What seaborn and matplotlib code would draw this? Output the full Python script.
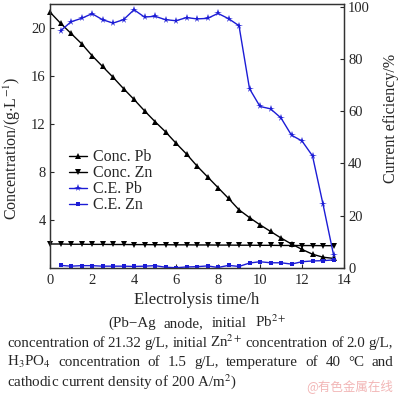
import numpy as np
import pandas as pd
import matplotlib
matplotlib.use("Agg")
import matplotlib.pyplot as plt
import seaborn as sns

# ---- data ----
t_conc = [0, 0.5, 1, 1.5, 2, 2.5, 3, 3.5, 4, 4.5, 5, 5.5, 6, 6.5, 7,
          7.5, 8, 8.5, 9, 9.5, 10, 10.5, 11, 11.5, 12, 12.5, 13, 13.5]
conc_pb = [21.32, 20.4, 19.55, 18.7, 17.7, 16.8, 15.9, 14.95, 14.05, 13.1,
           12.2, 11.35, 10.4, 9.5, 8.5, 7.6, 6.7, 5.8, 4.85, 4.2, 3.6, 3.05,
           2.5, 2.0, 1.55, 1.15, 0.9, 0.8]
conc_zn = [2.0, 2.0, 1.98, 1.98, 1.97, 1.97, 1.96, 1.96, 1.95, 1.95, 1.94,
           1.94, 1.93, 1.93, 1.92, 1.92, 1.91, 1.91, 1.9, 1.9, 1.89, 1.89,
           1.88, 1.88, 1.87, 1.87, 1.86, 1.86]

t_ce = [0.5, 1, 1.5, 2, 2.5, 3, 3.5, 4, 4.5, 5, 5.5, 6, 6.5, 7,
        7.5, 8, 8.5, 9, 9.5, 10, 10.5, 11, 11.5, 12, 12.5, 13, 13.5]
ce_pb = [90.7, 94.2, 95.5, 97.3, 95.0, 93.7, 95.0, 98.8, 96.0, 96.3, 95.0,
         94.6, 95.8, 95.3, 95.5, 97.4, 95.4, 92.7, 68.6, 61.8, 60.9, 57.4,
         50.8, 48.6, 42.9, 24.4, 5.1]
ce_zn = [1.0, 0.7, 0.9, 0.9, 0.7, 0.7, 0.7, 0.6, 0.7, 0.9, 0.3, 0.1, 0.4,
         0.5, 0.8, 0.2, 1.0, 0.6, 1.9, 2.4, 2.0, 2.0, 1.5, 2.4, 2.7, 2.8, 3.1]

x_ticks = [0, 2, 4, 6, 8, 10, 12, 14]
left_ticks = [4, 8, 12, 16, 20]
right_ticks = [0, 20, 40, 60, 80, 100]

caption = [
    ["(Pb\u2212Ag", "anode,", "initial", "Pb$^{2+}$"],
    ["concentration", "of", "21.32", "g/L,", "initial", "Zn$^{2+}$",
     "concentration", "of", "2.0", "g/L,"],
    ["H$_3$PO$_4$", "concentration", "of", "1.5", "g/L,", "temperature",
     "of", "40", "\u00b0C", "and"],
    ["cathodic current density of 200 A/m$^2$)"],
]

BLUE = "#1c1cd6"

sns.set_style("ticks")
plt.rcParams["font.family"] = ["Liberation Serif"]
plt.rcParams["mathtext.fontset"] = "stix"
plt.rcParams["xtick.direction"] = "in"
plt.rcParams["ytick.direction"] = "in"

df_c = pd.DataFrame({"t": t_conc, "pb": conc_pb, "zn": conc_zn})
df_e = pd.DataFrame({"t": t_ce, "pb": ce_pb, "zn": ce_zn})

fig = plt.figure(figsize=(4.0, 3.94), dpi=100, facecolor="white")
ax = fig.add_axes([50 / 400, 1 - 268 / 394, 294 / 400, 264 / 394])
ax2 = ax.twinx()

sns.lineplot(data=df_c, x="t", y="pb", ax=ax, color="black", marker="^",
             markersize=4, linewidth=1, markeredgewidth=0, label="Conc. Pb",
             legend=False, clip_on=False)
sns.lineplot(data=df_c, x="t", y="zn", ax=ax, color="black", marker="v",
             markersize=4, linewidth=1, markeredgewidth=0, label="Conc. Zn",
             legend=False, clip_on=False)
sns.lineplot(data=df_e, x="t", y="pb", ax=ax2, color=BLUE, marker="*",
             markersize=5.5, linewidth=1, markeredgewidth=0, label="C.E. Pb",
             legend=False)
sns.lineplot(data=df_e, x="t", y="zn", ax=ax2, color=BLUE, marker="s",
             markersize=3, linewidth=1, markeredgewidth=0, label="C.E. Zn",
             legend=False)

ax.set_xlim(0, 14)
ax.set_ylim(0, 22)
ax2.set_ylim(0, 101)
ax.set_xticks(x_ticks)
ax.set_yticks(left_ticks)
ax2.set_yticks(right_ticks)

for a in (ax, ax2):
    a.tick_params(labelsize=10.5, length=3, width=0.8, pad=3)
    for s in a.spines.values():
        s.set_color("#333333")
        s.set_linewidth(0.9)
ax.tick_params(axis="x", pad=4)

ax.set_xlabel("Electrolysis time/h", fontsize=12, labelpad=4)
ax.set_ylabel("Concentration/(g$\\cdot$L$^{-1}$)", fontsize=11.5, labelpad=6)
ax2.set_ylabel("Current eficiency/%", fontsize=11.5, labelpad=9)
ax.yaxis.label.set_y(0.455)
ax2.yaxis.label.set_y(0.565)

handles = ax.get_lines()[:2] + ax2.get_lines()[:2]
labels = [h.get_label() for h in handles]
ax2.legend(handles, labels, loc="upper left", frameon=False, fontsize=11.5,
           bbox_to_anchor=(0.065, 0.45), borderpad=0, borderaxespad=0,
           handlelength=1.1, handletextpad=0.4, labelspacing=0.0)

# ---- caption under the chart, justified like the reference ----
fig.canvas.draw()
renderer = fig.canvas.get_renderer()


def put_line(words, x0, x1, y, justify=True, size=10.8):
    texts = [fig.text(0, 0, w, fontsize=size, ha="left", va="baseline",
                      transform=None) for w in words]
    widths = [t.get_window_extent(renderer).width for t in texts]
    if justify and len(words) > 1:
        gap = (x1 - x0 - sum(widths)) / (len(words) - 1)
    else:
        gap = 0
    x = x0
    for t, w in zip(texts, widths):
        t.set_position((x, 394 - y))
        x += w + gap


put_line(caption[0], 108, 287, 327)
put_line(caption[1], 7, 393, 347)
put_line(caption[2], 7, 393, 366)
put_line(caption[3], 7, 393, 386, justify=False)

fig.text(393 / 400, 1 - 390 / 394, "@有色金属在线", ha="right", va="baseline",
         fontsize=9, color="#f2b6b6",
         family=["Noto Sans CJK SC", "DejaVu Sans"])

fig.savefig("out.png", dpi=100, facecolor="white")
plt.close(fig)
